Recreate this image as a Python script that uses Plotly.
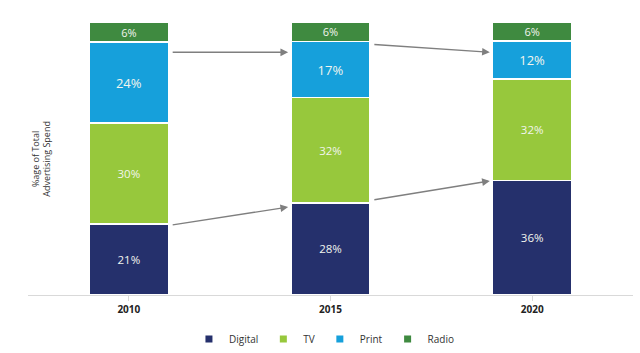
import plotly.graph_objects as go

years = ["2010", "2015", "2020"]
digital = [21, 28, 36]
tv = [30, 32, 32]
printed = [24, 17, 12]
radio = [6, 6, 6]

series = [
    ("Digital", digital, "#25306c", 11.5),
    ("TV", tv, "#97c83c", 11.5),
    ("Print", printed, "#16a0db", 13),
    ("Radio", radio, "#3f8a40", 11),
]

# arrows: (from category index, from %, to category index, to %)
arrow_from_idx = [0, 0, 1, 1]
arrow_from_pct = [88.9, 25.6, 91.8, 34.8]
arrow_to_idx = [1, 1, 2, 2]
arrow_to_pct = [88.9, 32.2, 88.9, 41.8]

bar_width = 0.393
arrow_pad = 0.21

fig = go.Figure()
for name, vals, color, fsize in series:
    fig.add_trace(go.Bar(
        x=list(range(len(years))), y=vals, name=name,
        marker=dict(color=color, line=dict(color="white", width=1.5)),
        text=[f"{v}%" for v in vals], textposition="inside",
        insidetextanchor="middle", textangle=0, constraintext="none",
        textfont=dict(family="Open Sans", size=fsize, color="#f2f5ee"),
        showlegend=False, width=bar_width, hoverinfo="skip",
    ))
    fig.add_trace(go.Scatter(
        x=[None], y=[None], mode="markers", name=name,
        marker=dict(symbol="square", size=7, color=color),
    ))

for fi, fp, ti, tp in zip(arrow_from_idx, arrow_from_pct, arrow_to_idx, arrow_to_pct):
    fig.add_annotation(
        x=ti - arrow_pad, y=tp, ax=fi + arrow_pad, ay=fp,
        xref="x", yref="y", axref="x", ayref="y",
        showarrow=True, arrowhead=2, arrowsize=1.1, arrowwidth=1.4,
        arrowcolor="#7f7f7f", text="",
    )

fig.add_annotation(
    text="%age of Total<br>Advertising Spend", xref="paper", yref="paper",
    x=-0.002, y=0.5, xanchor="left", yanchor="middle", textangle=-90,
    showarrow=False, font=dict(family="Open Sans", size=9, color="#333333"),
)

fig.update_layout(
    barmode="stack", barnorm="percent",
    width=640, height=353,
    margin=dict(l=28, r=7, t=22, b=58, autoexpand=False),
    paper_bgcolor="white", plot_bgcolor="white",
    font=dict(family="Open Sans", color="#333333"),
    legend=dict(orientation="h", traceorder="normal",
                xref="paper", x=0.49, xanchor="center",
                yref="container", y=0.04, yanchor="middle",
                font=dict(size=10, color="#333333"), itemwidth=30),
    xaxis=dict(
        tickmode="array", tickvals=list(range(len(years))), ticktext=years,
        range=[-0.5, 2.5], showgrid=False, zeroline=False,
        showline=True, linecolor="#d9d9d9", linewidth=1,
        ticks="outside", ticklen=5, tickcolor="#d9d9d9",
        tickfont=dict(size=10, color="#222222", weight="bold"),
    ),
    yaxis=dict(range=[0, 100], showticklabels=False, showgrid=False, zeroline=False,
               showline=False),
)
fig.update_xaxes(tickson="boundaries")

fig.write_html("out.html")
